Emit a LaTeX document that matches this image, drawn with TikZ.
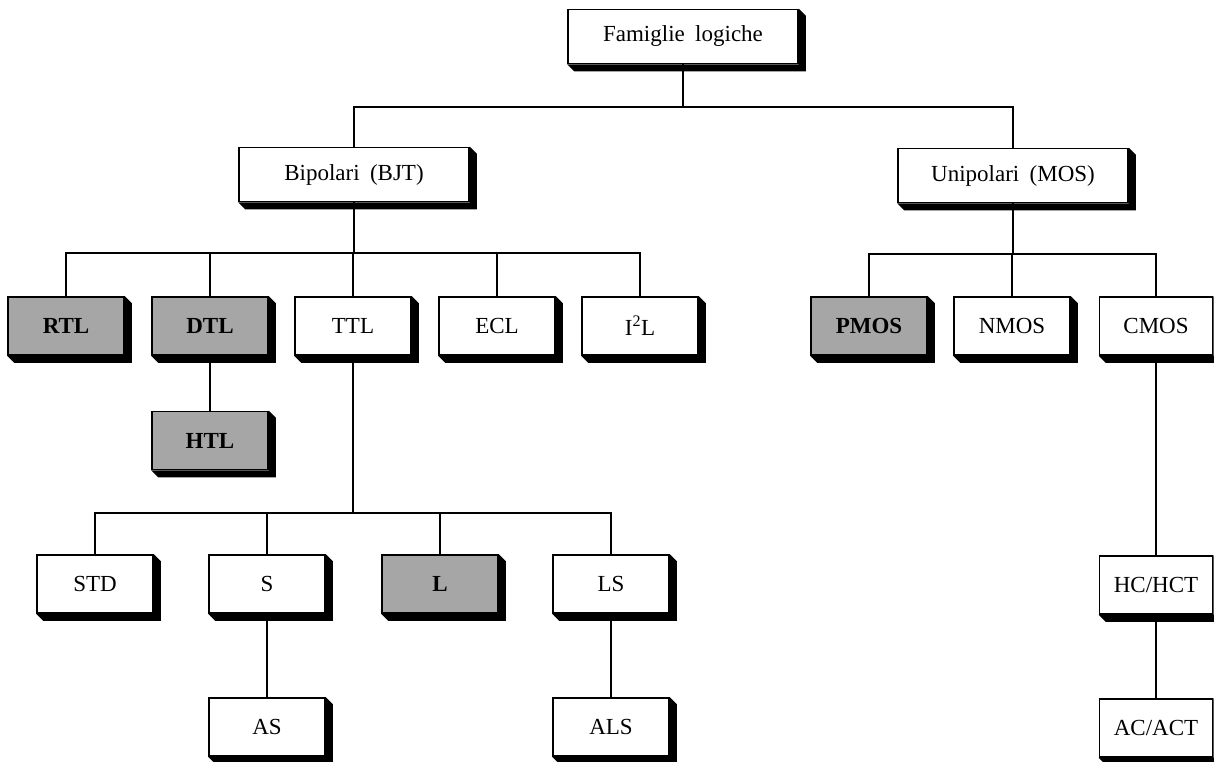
\documentclass[tikz,border=0pt]{standalone}
\usepackage{fontspec}
\setmainfont{Liberation Serif}
\usetikzlibrary{calc}
\tikzset{
  box/.style={draw, line width=1.6pt, fill=white, minimum width=116pt, minimum height=58pt, inner sep=0pt, font=\fontsize{23}{27}\selectfont},
  wide/.style={minimum width=230pt, minimum height=54pt},
  shaded/.style={fill=black!35, font=\fontsize{23}{27}\selectfont\bfseries},
  conn/.style={line width=1.3pt},
}
\newcommand\bx[5]{%
  \node[box,#4] (#1) at (#2,#3) {#5};
  \fill (#1.north east) -- ++(7,7) -- ($(#1.south east)+(7,7)$) -- ($(#1.south west)+(7,7)$) -- (#1.south west) -- (#1.south east) -- cycle;}
\newcommand\gap{\hspace{0.45em}}
\begin{document}
\begin{tikzpicture}[x=1pt,y=-1pt]
\useasboundingbox (0,0) rectangle (1214,762);
% nodes
\bx{fam}{683}{36.5}{wide}{Famiglie\gap logiche}
\bx{bip}{354}{174.5}{wide}{Bipolari\gap (BJT)}
\bx{uni}{1013}{175.5}{wide}{Unipolari\gap (MOS)}
\bx{rtl}{66}{326}{shaded}{RTL}
\bx{dtl}{210}{326}{shaded}{DTL}
\bx{ttl}{353}{326}{}{TTL}
\bx{ecl}{497}{326}{}{ECL}
\bx{iil}{640}{326}{}{I\textsuperscript{2}L}
\bx{pmos}{869}{326}{shaded}{PMOS}
\bx{nmos}{1012}{326}{}{NMOS}
\bx{cmos}{1156}{326}{minimum width=113pt}{CMOS}
\bx{htl}{210}{440.5}{shaded}{HTL}
\bx{std}{95}{584}{}{STD}
\bx{s}{267}{584}{}{S}
\bx{l}{440}{584}{shaded}{L}
\bx{ls}{611}{584}{}{LS}
\bx{hc}{1156}{585}{minimum width=113pt}{HC/HCT}
\bx{as}{267}{727}{}{AS}
\bx{als}{611}{727}{}{ALS}
\bx{ac}{1156}{728}{minimum width=113pt}{AC/ACT}
% bar levels
\coordinate (bar1) at (0,107);
\coordinate (bar2) at (0,253);
\coordinate (bar3) at (0,254);
\coordinate (bar4) at (0,513);
% connectors
\draw[conn] (fam.south) -- (fam.south |- bar1);
\draw[conn] (bip.north) -- (bip.north |- bar1) -| (uni.north);
\draw[conn] (bip.south) -- (bip.south |- bar2);
\draw[conn] (rtl.north) -- (rtl.north |- bar2) -| (iil.north);
\draw[conn] (dtl.north) -- (dtl.north |- bar2);
\draw[conn] (ttl.north) -- (ttl.north |- bar2);
\draw[conn] (ecl.north) -- (ecl.north |- bar2);
\draw[conn] (uni.south) -- (uni.south |- bar3);
\draw[conn] (pmos.north) -- (pmos.north |- bar3) -| (cmos.north);
\draw[conn] (nmos.north) -- (nmos.north |- bar3);
\draw[conn] (dtl.south) -- (htl.north);
\draw[conn] (ttl.south) -- (ttl.south |- bar4);
\draw[conn] (std.north) -- (std.north |- bar4) -| (ls.north);
\draw[conn] (s.north) -- (s.north |- bar4);
\draw[conn] (l.north) -- (l.north |- bar4);
\draw[conn] (s.south) -- (as.north);
\draw[conn] (ls.south) -- (als.north);
\draw[conn] (cmos.south) -- (hc.north);
\draw[conn] (hc.south) -- (ac.north);
\end{tikzpicture}
\end{document}
